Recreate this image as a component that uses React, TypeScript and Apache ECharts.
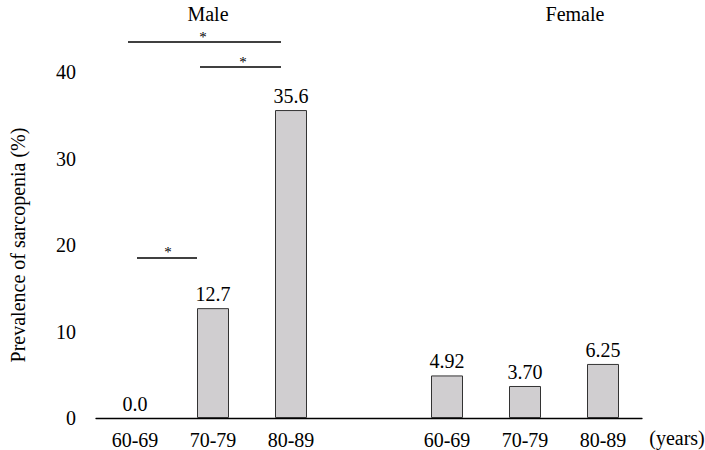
import React, { useEffect, useRef } from "react";
import * as echarts from "echarts";

const categories = ["60-69", "70-79", "80-89", "", "60-69", "70-79", "80-89"];
const values: (number | null)[] = [0.0, 12.7, 35.6, null, 4.92, 3.7, 6.25];
const valueLabels = ["0.0", "12.7", "35.6", "", "4.92", "3.70", "6.25"];
const yTicks = [0, 10, 20, 30, 40];
const groupTitles = ["Male", "Female"];

const FONT = "Liberation Serif";
const FS = 20;

export default function App() {
  const ref = useRef<HTMLDivElement>(null);
  useEffect(() => {
    const chart = echarts.init(ref.current!, null, { renderer: "svg" });
    const lineStyle = { stroke: "#000", lineWidth: 1.3 };
    const txt = (x: number, y: number, t: string, size = FS) => ({
      type: "text",
      x,
      y,
      style: {
        text: t,
        fontFamily: FONT,
        fontSize: size,
        fill: "#000",
        align: "center",
        verticalAlign: "middle",
      },
    });
    chart.setOption({
      animation: false,
      grid: { left: 82, right: 63, top: 72, bottom: 32 },
      xAxis: {
        type: "category",
        data: categories,
        axisLine: { lineStyle: { color: "#000", width: 1.3 } },
        axisTick: { show: false },
        axisLabel: { color: "#000", fontFamily: FONT, fontSize: FS, margin: 12, interval: 0 },
      },
      yAxis: {
        type: "value",
        min: yTicks[0],
        max: yTicks[yTicks.length - 1],
        interval: 10,
        axisLine: { show: false },
        axisTick: { show: false },
        splitLine: { show: false },
        axisLabel: { color: "#000", fontFamily: FONT, fontSize: FS, margin: 20 },
        name: "Prevalence of sarcopenia (%)",
        nameLocation: "middle",
        nameGap: 68,
        nameRotate: 90,
        nameTextStyle: { color: "#000", fontFamily: FONT, fontSize: FS },
      },
      series: [
        {
          type: "bar",
          data: values.map((v) =>
            v === 0 ? { value: v, itemStyle: { borderWidth: 0, color: "transparent" } } : v
          ),
          barWidth: 32,
          itemStyle: { color: "#d0ced0", borderColor: "#333", borderWidth: 1 },
          label: {
            show: true,
            position: "top",
            distance: 4,
            color: "#000",
            fontFamily: FONT,
            fontSize: FS,
            formatter: (p: any) => valueLabels[p.dataIndex],
          },
        },
      ],
      graphic: [
        txt(208, 14, groupTitles[0]),
        txt(575, 14, groupTitles[1]),
        txt(677, 438, "(years)"),
        { type: "line", shape: { x1: 128, y1: 42, x2: 281, y2: 42 }, style: lineStyle },
        txt(203, 37, "*", 15),
        { type: "line", shape: { x1: 200, y1: 67, x2: 281, y2: 67 }, style: lineStyle },
        txt(243, 62, "*", 15),
        { type: "line", shape: { x1: 137, y1: 258, x2: 197, y2: 258 }, style: lineStyle },
        txt(168, 252, "*", 15),
      ],
    });
    return () => chart.dispose();
  }, []);
  return <div ref={ref} style={{ width: 705, height: 450, position: "absolute", left: 0, top: 0 }} />;
}
